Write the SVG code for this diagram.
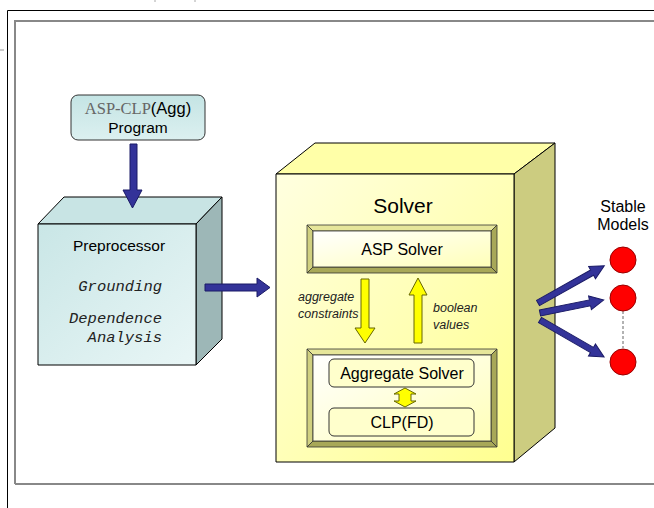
<svg xmlns="http://www.w3.org/2000/svg" width="654" height="508" viewBox="0 0 654 508">
<defs>
<linearGradient id="gPre" x1="0" y1="0" x2="1" y2="1"><stop offset="0" stop-color="#c9e6e6"/><stop offset="1" stop-color="#e9f6f6"/></linearGradient>
<linearGradient id="gProg" x1="0" y1="0" x2="0" y2="1"><stop offset="0" stop-color="#c4e4e4"/><stop offset="1" stop-color="#dcf0f0"/></linearGradient>
<linearGradient id="gSol" x1="0" y1="0" x2="1" y2="1"><stop offset="0" stop-color="#ffffe0"/><stop offset="1" stop-color="#ffff90"/></linearGradient>
<linearGradient id="gIn" x1="0" y1="0" x2="1" y2="1"><stop offset="0" stop-color="#ffffff"/><stop offset="1" stop-color="#ffffb8"/></linearGradient>
<style>
.t{font-family:"Liberation Sans",Arial,sans-serif;fill:#000}
.mono{font-family:"Liberation Mono","Courier New",monospace;font-style:italic;font-size:15.5px;fill:#222}
.it{font-family:"Liberation Sans",Arial,sans-serif;font-style:italic;font-size:12.5px;fill:#222}
.edge{stroke:#000;stroke-width:1;stroke-linejoin:round}
.blue{fill:#333399;stroke:#1a1a66;stroke-width:1}
.yel{fill:#ffff00;stroke:#666600;stroke-width:1}
.bev1{fill:#e6e69a;stroke:#333;stroke-width:0.8}
.bev2{fill:#a8a858;stroke:#333;stroke-width:0.8}
.bev3{fill:#d0d080;stroke:#333;stroke-width:0.8}
.rbox{fill:#ffffcc;stroke:#333;stroke-width:1}
.circ{fill:#ff0000;stroke:#990000;stroke-width:1}
</style>
</defs>

<g id="frame">
<path d="M7.5 508 V10.5 H654" fill="none" stroke="#000" stroke-width="1"/>
<path d="M15 484 V21 H654 M15 484 H654" fill="none" stroke="#888" stroke-width="2"/>
<line x1="0" y1="50" x2="4" y2="50" stroke="#999" stroke-width="1"/>
<line x1="155" y1="0" x2="155" y2="2" stroke="#aaa" stroke-width="1"/>
<line x1="195" y1="0" x2="195" y2="2" stroke="#aaa" stroke-width="1"/>
</g>

<g id="program">
<rect x="71" y="95" width="134" height="45" rx="7" fill="url(#gProg)" stroke="#333" stroke-width="1"/>
<text x="138" y="114" text-anchor="middle" font-size="16.5"><tspan font-family="Liberation Serif,serif" fill="#666">ASP-CLP</tspan><tspan font-family="Liberation Sans,Arial,sans-serif" fill="#000">(Agg)</tspan></text>
<text class="t" x="138" y="133" text-anchor="middle" font-size="15.5">Program</text>
</g>

<g id="preprocessor">
<polygon class="edge" points="38,224 64,197 222,197 196,224" fill="#c8e4e4"/>
<polygon class="edge" points="196,224 222,197 222,339 196,365" fill="#9db7b7"/>
<rect class="edge" x="38" y="224" width="158" height="141" fill="url(#gPre)"/>
<text class="t" x="119" y="251" text-anchor="middle" font-size="15.5">Preprocessor</text>
<text class="mono" x="162" y="291" text-anchor="end">Grounding</text>
<text class="mono" x="162" y="323" text-anchor="end">Dependence</text>
<text class="mono" x="162" y="342" text-anchor="end">Analysis</text>
</g>

<g id="solver">
<polygon class="edge" points="276,174 315,143 555,143 514,174" fill="#ffffa8"/>
<polygon class="edge" points="514,174 555,143 555,428 514,462" fill="#cccc80"/>
<rect class="edge" x="276" y="174" width="238" height="288" fill="url(#gSol)"/>
<text class="t" x="403" y="213" text-anchor="middle" font-size="21">Solver</text>
</g>

<g id="asp-solver">
<polygon class="bev1" points="307,225 497,225 491,231 313,231"/>
<polygon class="bev3" points="307,225 313,231 313,267 307,273"/>
<polygon class="bev2" points="307,273 313,267 491,267 497,273"/>
<polygon class="bev2" points="497,225 497,273 491,267 491,231"/>
<rect x="313" y="231" width="178" height="36" fill="url(#gIn)" stroke="#333" stroke-width="0.8"/>
<text class="t" x="402" y="255" text-anchor="middle" font-size="16">ASP Solver</text>
</g>

<g id="aggregate-block">
<polygon class="bev1" points="307,349 497,349 491,355 313,355"/>
<polygon class="bev3" points="307,349 313,355 313,441 307,447"/>
<polygon class="bev2" points="307,447 313,441 491,441 497,447"/>
<polygon class="bev2" points="497,349 497,447 491,441 491,355"/>
<rect x="313" y="355" width="178" height="86" fill="url(#gIn)" stroke="#333" stroke-width="0.8"/>
</g>

<g id="aggregate-solver">
<rect class="rbox" x="329" y="359" width="145" height="28" rx="5"/>
<text class="t" x="402" y="379" text-anchor="middle" font-size="16">Aggregate Solver</text>
</g>

<g id="clpfd">
<rect class="rbox" x="329" y="408" width="145" height="28" rx="5"/>
<text class="t" x="402" y="428" text-anchor="middle" font-size="16">CLP(FD)</text>
</g>

<g id="stable-models">
<text class="t" x="623" y="212" text-anchor="middle" font-size="16">Stable</text>
<text class="t" x="623" y="230" text-anchor="middle" font-size="16">Models</text>
<line x1="623" y1="311" x2="623" y2="348" stroke="#666" stroke-width="1" stroke-dasharray="3,2"/>
<circle class="circ" cx="623" cy="260" r="13"/>
<circle class="circ" cx="623" cy="298" r="13"/>
<circle class="circ" cx="623" cy="362" r="13"/>
</g>

<g id="connectors">
<polygon class="blue" points="130,144 137,144 137,190 142,190 132.5,208 123,190 130,190"/>
<polygon class="blue" points="205,284 257,284 257,278 270,287.5 257,297 257,291 205,291"/>
<polygon class="yel" points="361,279 369,279 369,328 375,328 365,343 355,328 361,328"/>
<polygon class="yel" points="414,343 422,343 422,295 427,295 418,278 409,295 414,295"/>
<polygon class="yel" points="405,388 416,394 411,394 411,401 416,401 405,407 394,401 399,401 399,394 394,394"/>
<text class="it" x="298" y="301">aggregate</text>
<text class="it" x="298" y="318">constraints</text>
<text class="it" x="433" y="312">boolean</text>
<text class="it" x="433" y="329">values</text>
<polygon class="blue" transform="translate(538,303) rotate(-29.3)" points="0,-3 62,-3 62,-7 76,0 62,7 62,3 0,3"/>
<polygon class="blue" transform="translate(540,313) rotate(-11.5)" points="0,-3 51,-3 51,-7 65,0 51,7 51,3 0,3"/>
<polygon class="blue" transform="translate(540,320) rotate(30)" points="0,-3 60,-3 60,-7 74,0 60,7 60,3 0,3"/>
</g>
</svg>
